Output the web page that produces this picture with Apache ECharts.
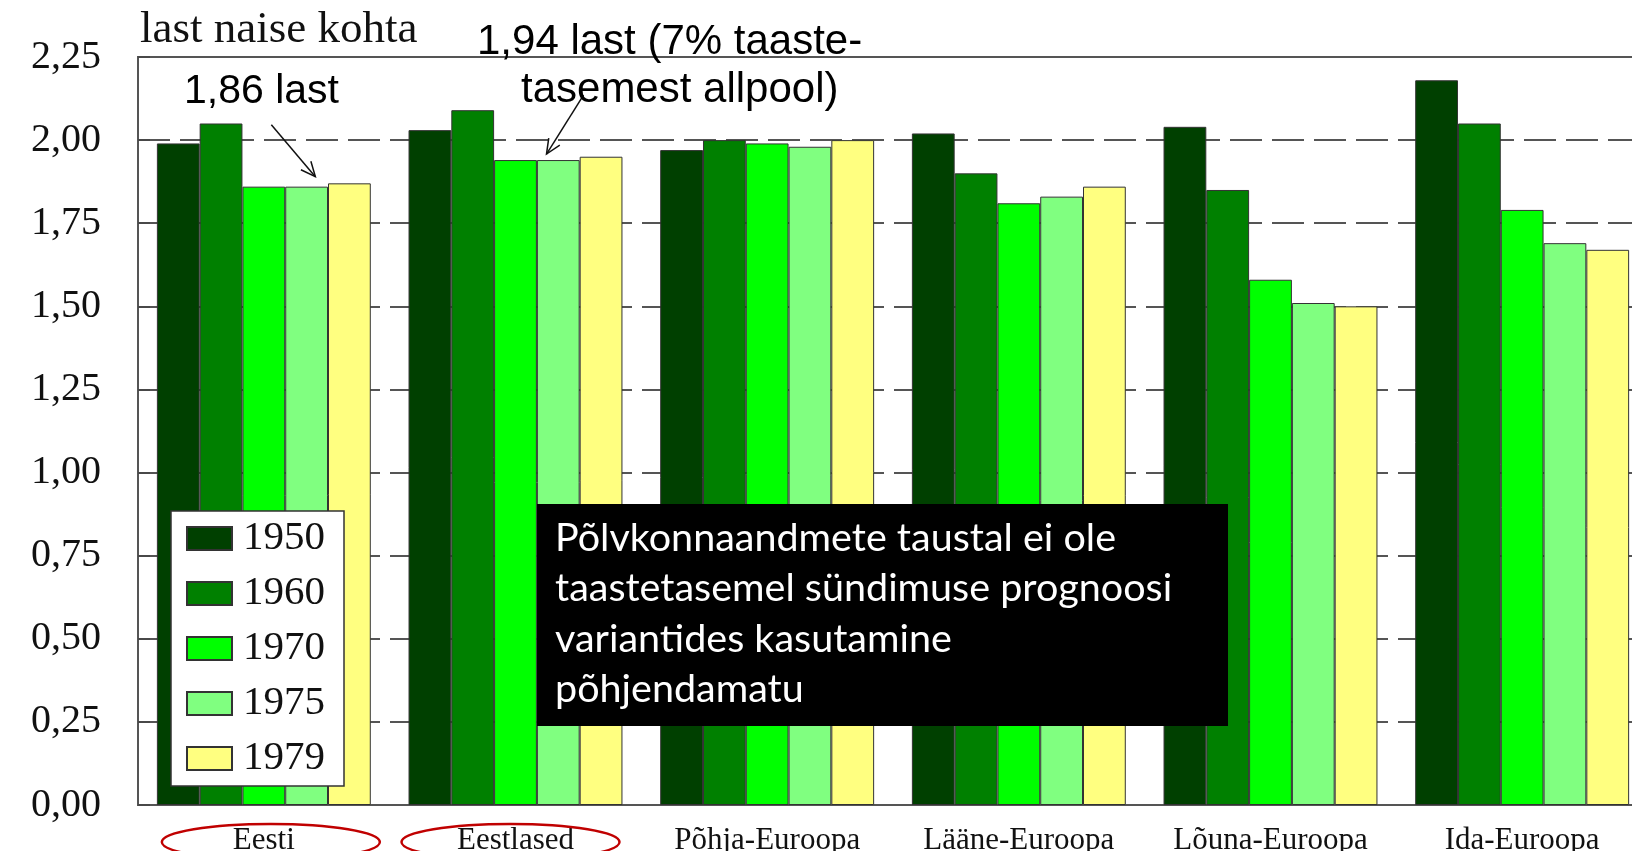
<!DOCTYPE html>
<html>
<head>
<meta charset="utf-8">
<script src="https://cdn.jsdelivr.net/npm/echarts@6/dist/echarts.min.js"></script>
<style>
html,body{margin:0;padding:0;background:#fff;overflow:hidden;width:1632px;height:851px;}
#c{width:1680px;height:851px;}
</style>
</head>
<body>
<div id="c"></div>
<script>
const categories = ['Eesti', 'Eestlased', 'Põhja-Euroopa', 'Lääne-Euroopa', 'Lõuna-Euroopa', 'Ida-Euroopa'];
const years = ['1950', '1960', '1970', '1975', '1979'];
const v1950 = [1.99, 2.03, 1.97, 2.02, 2.04, 2.18];
const v1960 = [2.05, 2.09, 2.00, 1.90, 1.85, 2.05];
const v1970 = [1.86, 1.94, 1.99, 1.81, 1.58, 1.79];
const v1975 = [1.86, 1.94, 1.98, 1.83, 1.51, 1.69];
const v1979 = [1.87, 1.95, 2.00, 1.86, 1.50, 1.67];
const seriesValues = [v1950, v1960, v1970, v1975, v1979];
const colors = ['#004000', '#008000', '#00ff00', '#80ff80', '#ffff80'];
const yMin = 0, yMax = 2.25, yStep = 0.25;
const axisTitle = 'last naise kohta';
const note1 = '1,86 last';
const note2a = '1,94 last (7% taaste-';
const note2b = 'tasemest allpool)';
const boxText = 'Põlvkonnaandmete taustal ei ole\ntaastetasemel sündimuse prognoosi\nvariantides kasutamine\npõhjendamatu';
const circled = [0, 1];

const serif = '"Liberation Serif", "Times New Roman", serif';
const sans = '"Liberation Sans", Arial, sans-serif';

const chart = echarts.init(document.getElementById('c'), null, {renderer: 'canvas'});

const option = {
  animation: false,
  backgroundColor: '#ffffff',
  title: {
    text: axisTitle,
    left: 135, top: 3,
    textStyle: {fontFamily: serif, fontSize: 45, fontWeight: 'normal', color: '#111'}
  },
  grid: {
    left: 138, top: 57, width: 1510, height: 748,
    outerBoundsMode: 'none', containLabel: false,
    show: true, borderColor: '#555', borderWidth: 2, backgroundColor: 'transparent'
  },
  legend: {
    orient: 'vertical', left: 171, top: 511,
    data: years,
    icon: 'rect',
    itemWidth: 45, itemHeight: 23, itemGap: 14,
    padding: [7, 19, 7, 15],
    backgroundColor: '#ffffff', borderColor: '#333', borderWidth: 1.5,
    textStyle: {fontFamily: serif, fontSize: 41, color: '#111', padding: [0, 0, 0, 6]}
  },
  xAxis: {
    type: 'category',
    data: categories,
    axisLine: {show: true, lineStyle: {color: '#555', width: 2}},
    axisTick: {show: true, inside: true, alignWithLabel: true, length: 14, lineStyle: {color: '#333', width: 1.5}},
    axisLabel: {fontFamily: serif, fontSize: 31, color: '#111', margin: 20, interval: 0},
    splitLine: {show: false}
  },
  yAxis: {
    type: 'value',
    min: yMin, max: yMax, interval: yStep,
    axisLine: {show: true, lineStyle: {color: '#555', width: 2}},
    axisTick: {show: true, inside: true, length: 12, lineStyle: {color: '#444', width: 1.5}},
    axisLabel: {
      fontFamily: serif, fontSize: 40, color: '#111', margin: 37,
      formatter: v => v.toFixed(2).replace('.', ',')
    },
    splitLine: {show: true, lineStyle: {color: '#555', width: 1.8, type: [32, 10]}}
  },
  series: years.map((y, i) => ({
    name: y,
    type: 'bar',
    data: seriesValues[i],
    barGap: '0%',
    barCategoryGap: '15%',
    itemStyle: {color: colors[i], borderColor: '#333', borderWidth: 1}
  }))
};
chart.setOption(option);

function px(cat, val) { return chart.convertToPixel({gridIndex: 0}, [cat, val]); }

function arrow(x1, y1, x2, y2) {
  const ang = Math.atan2(y2 - y1, x2 - x1);
  const L = 16, a = 0.42;
  const h1 = [x2 - L * Math.cos(ang - a), y2 - L * Math.sin(ang - a)];
  const h2 = [x2 - L * Math.cos(ang + a), y2 - L * Math.sin(ang + a)];
  return [
    {type: 'line', z: 50, shape: {x1, y1, x2, y2}, style: {stroke: '#111', lineWidth: 1.5}},
    {type: 'polyline', z: 50, shape: {points: [h1, [x2, y2], h2]}, style: {stroke: '#111', lineWidth: 1.5, fill: null}}
  ];
}

const p1 = px(0, v1975[0]);
const p2 = px(1, v1970[1]);
const graphics = [];
graphics.push(...arrow(p1[0] + 7.5, p1[1] - 62, p1[0] + 51.5, p1[1] - 10));
graphics.push(...arrow(p2[0] + 68, p2[1] - 65, p2[0] + 31, p2[1] - 6));
graphics.push({type: 'text', z: 50, style: {x: 184, y: 92, text: note1, font: '41px ' + sans, fill: '#000', textVerticalAlign: 'middle'}});
graphics.push({type: 'text', z: 50, style: {x: 477, y: 42, text: note2a, font: '42px ' + sans, fill: '#000', textVerticalAlign: 'middle'}});
graphics.push({type: 'text', z: 50, style: {x: 521, y: 90, text: note2b, font: '42px ' + sans, fill: '#000', textVerticalAlign: 'middle'}});
const ellOff = [7, -5];
circled.forEach((ci, k) => {
  const p = px(ci, 0);
  graphics.push({type: 'ellipse', z: 50, shape: {cx: p[0] + ellOff[k], cy: 842, rx: 109, ry: 18},
    style: {fill: null, stroke: '#c00000', lineWidth: 2.5}});
});
graphics.push({type: 'rect', z: 60, shape: {x: 537, y: 504, width: 691, height: 222}, style: {fill: '#000'}});
graphics.push({type: 'text', z: 61, style: {x: 555, y: 513, text: boxText, font: '39.5px Lato, "Open Sans", sans-serif', fill: '#fff', lineHeight: 50.5, textVerticalAlign: 'top'}});
chart.setOption({graphic: graphics});
</script>
</body>
</html>
